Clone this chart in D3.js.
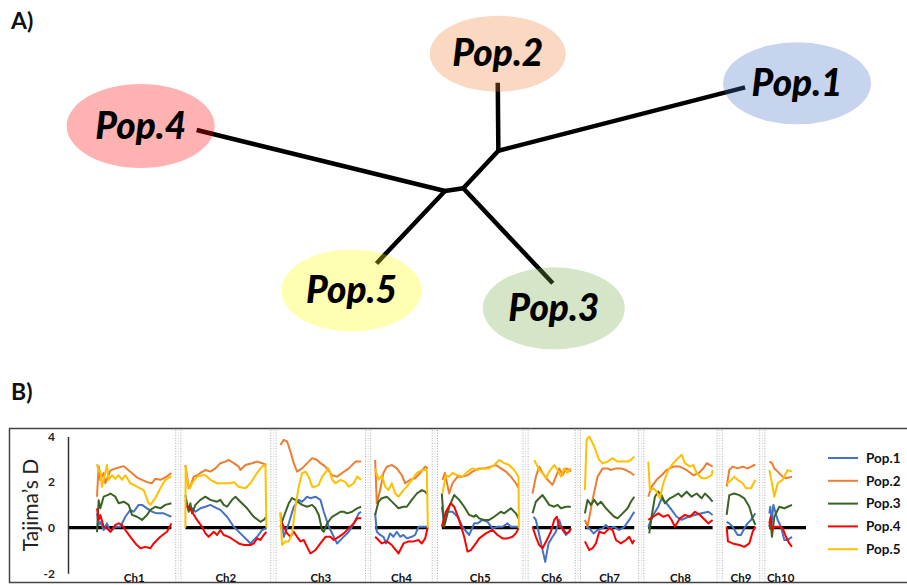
<!DOCTYPE html>
<html><head><meta charset="utf-8">
<script src="https://cdn.jsdelivr.net/npm/d3@7"></script>
<style>body{margin:0;background:#fff}svg{display:block}</style>
</head><body>
<svg id="c" width="907" height="585"></svg>
<script>
// ---------- Panel B data ----------
const chromosomes = ["Ch1","Ch2","Ch3","Ch4","Ch5","Ch6","Ch7","Ch8","Ch9","Ch10"];
const chromLengths = [223,243,242,158,230,115,148,193,86,68]; // windows
const popNames = ["Pop.1","Pop.2","Pop.3","Pop.4","Pop.5"];
const popColors = ["#4472C4","#ED7D31","#3A6324","#FF0000","#FFC000"];
const yTicks = [-2,0,2,4];

// [window position within chromosome, Tajima's D]
const pop1 = [
 [[0,0.63],[5,0.12],[10,0.26],[20,-0.1],[30,0.19],[40,-0.18],[55,0.04],[70,0.04],[85,0.48],[100,0.78],[110,0.7],[125,1.0],[135,1.0],[150,0.85],[165,0.7],[180,0.63],[200,0.63],[210,0.56],[223,0.48]],
 [[0,1.22],[10,0.78],[20,0.85],[30,0.7],[45,0.85],[60,0.92],[75,1.0],[95,0.85],[105,0.78],[125,0.48],[145,0.04],[165,-0.25],[185,-0.54],[195,-0.69],[205,-0.54],[215,-0.4],[230,-0.1],[243,-0.03]],
 [[0,0.63],[10,-0.4],[25,0.19],[40,0.92],[55,1.22],[65,1.14],[80,1.36],[90,1.29],[105,1.36],[120,1.22],[130,0.7],[145,0.04],[160,-0.4],[170,-0.69],[185,-0.47],[205,-0.18],[220,0.19],[235,0.63],[242,0.7]],
 [[0,0.63],[5,-0.18],[15,-0.32],[25,-0.4],[33,-0.69],[45,-0.25],[55,-0.4],[65,-0.18],[75,-0.4],[85,-0.32],[95,-0.47],[110,-0.4],[120,-0.32],[130,0.04],[158,0.04]],
 [[0,0.92],[7,0.19],[17,0.7],[32,0.7],[47,0.48],[62,0.04],[82,-0.32],[97,0.19],[107,0.19],[122,0.34],[137,0.26],[152,-0.03],[167,0.04],[182,0.04],[197,0.19],[207,0.04],[230,0.04]],
 [[3,0.48],[10,0.34],[17,-0.1],[28,-0.84],[38,-1.5],[48,-0.69],[60,-0.4],[70,-0.18],[80,0.34],[90,-0.1],[100,-0.32],[110,-0.18],[115,-0.03]],
 [[3,0.04],[13,-0.03],[26,-0.25],[38,-0.1],[53,-0.03],[63,0.12],[73,-0.03],[88,0.04],[103,-0.1],[118,0.04],[133,0.34],[148,0.7]],
 [[0,0.04],[15,0.56],[30,0.92],[40,1.29],[55,1.07],[70,0.78],[85,0.48],[100,0.34],[120,0.48],[140,0.56],[160,0.63],[180,0.7],[193,0.56]],
 [[0,0.26],[8,0.19],[18,0.04],[33,-0.32],[43,-0.32],[53,-0.03],[63,0.19],[73,0.34],[86,0.63]],
 [[0,0.63],[3,0.92],[7,0.19],[12,1.0],[25,0.34],[35,0.04],[45,-0.54],[55,-0.54],[68,-0.4]]
];
const pop2 = [
 [[0,1.36],[5,2.7],[10,2.1],[20,2.4],[25,1.95],[40,2.5],[55,2.6],[80,2.7],[100,2.45],[120,2.2],[150,2.0],[165,1.95],[175,2.15],[190,2.1],[210,2.25],[223,2.4]],
 [[0,2.75],[10,1.73],[15,1.8],[25,2.24],[35,2.3],[45,2.4],[60,2.53],[75,2.46],[90,2.6],[105,2.83],[120,2.9],[130,2.97],[145,2.83],[160,2.68],[165,2.53],[180,2.75],[200,2.83],[215,2.9],[230,2.83],[243,2.75]],
 [[0,3.63],[10,3.85],[20,3.78],[30,3.34],[40,2.83],[50,2.46],[65,2.6],[85,2.9],[95,3.05],[110,2.97],[120,2.83],[135,2.68],[155,2.3],[170,2.24],[185,2.4],[205,2.6],[225,2.9],[242,2.9]],
 [[0,2.97],[5,1.07],[15,1.65],[25,2.4],[35,2.68],[50,2.75],[65,2.6],[80,2.3],[90,1.95],[105,2.1],[120,2.17],[135,2.4],[150,2.68],[158,2.6]],
 [[2,2.1],[9,2.4],[22,1.5],[32,1.95],[47,2.24],[62,2.24],[77,2.3],[92,2.46],[112,2.6],[127,2.6],[147,2.68],[162,2.75],[177,2.6],[192,2.46],[207,2.24],[222,1.95],[230,1.73]],
 [[0,1.5],[10,2.24],[20,2.68],[30,2.4],[45,2.1],[60,1.88],[70,2.24],[80,2.6],[90,2.3],[100,2.6],[110,2.53],[115,2.46]],
 [[0,0.34],[8,0.04],[23,1.22],[38,2.24],[53,2.6],[68,2.6],[78,2.53],[93,2.6],[108,2.6],[123,2.53],[138,2.4],[148,2.3]],
 [[0,1.36],[10,1.8],[25,2.1],[40,2.3],[55,2.53],[75,2.68],[95,2.68],[115,2.53],[135,2.3],[150,2.38],[165,2.6],[175,2.83],[185,2.75],[193,2.68]],
 [[0,1.8],[8,2.53],[18,2.68],[33,2.6],[48,2.68],[63,2.6],[83,2.75],[86,2.75]],
 [[0,2.9],[8,2.83],[15,2.6],[25,2.46],[40,2.24],[50,2.17],[68,2.24]]
];
const pop3 = [
 [[0,-0.2],[5,1.2],[10,0.85],[20,1.36],[35,1.45],[40,1.5],[55,1.36],[65,1.07],[80,1.14],[95,1.0],[105,0.56],[120,0.48],[135,0.34],[150,0.56],[160,0.78],[175,0.92],[190,0.85],[205,1.0],[223,1.07]],
 [[0,1.43],[10,0.7],[15,1.07],[20,0.63],[30,1.0],[45,1.22],[60,1.36],[75,1.22],[95,1.14],[105,1.22],[115,1.0],[125,0.92],[140,1.22],[150,1.36],[165,1.14],[185,0.85],[205,0.48],[225,0.26],[235,0.34],[243,0.48]],
 [[0,0.04],[10,0.48],[25,1.07],[35,1.3],[45,1.22],[65,1.0],[80,0.92],[95,1.0],[105,0.85],[115,0.56],[125,-0.1],[130,-0.18],[140,0.19],[155,0.48],[165,0.56],[180,0.7],[190,0.7],[200,0.63],[215,0.7],[230,0.85],[242,0.92]],
 [[0,0.56],[10,1.14],[20,1.29],[35,1.36],[45,1.22],[60,1.0],[70,0.85],[85,0.92],[95,0.92],[110,1.22],[125,1.5],[140,1.65],[150,1.58],[158,1.43]],
 [[0,1.5],[7,0.04],[22,0.92],[37,1.43],[52,1.22],[67,0.92],[82,0.56],[97,0.48],[102,0.56],[112,0.41],[127,0.34],[142,0.34],[157,0.48],[177,0.7],[187,0.63],[207,0.85],[222,0.63],[230,0.41]],
 [[0,0.63],[10,1.14],[20,1.29],[30,1.43],[40,1.22],[50,1.0],[65,0.92],[75,1.0],[85,0.85],[100,0.92],[115,0.92]],
 [[0,0.63],[8,1.22],[18,1.0],[28,1.22],[38,1.0],[48,1.14],[63,0.85],[73,0.7],[88,0.48],[98,0.41],[113,0.63],[128,0.85],[138,1.14],[148,1.36]],
 [[3,-0.25],[10,0.48],[20,1.36],[30,1.58],[40,1.43],[50,1.07],[65,1.29],[75,1.36],[90,1.5],[100,1.36],[115,1.58],[130,1.36],[145,1.5],[160,1.29],[170,1.5],[180,1.36],[193,1.14]],
 [[0,0.56],[8,1.43],[23,1.5],[38,1.43],[53,1.29],[68,0.92],[78,0.41],[86,0.12]],
 [[0,0.04],[3,0.34],[8,-0.4],[15,0.48],[30,0.92],[45,0.85],[55,0.92],[68,1.0]]
];
const pop4 = [
 [[0,0.85],[5,0.34],[10,0.56],[20,0.04],[30,-0.03],[40,-0.18],[55,0.12],[65,0.19],[75,0.12],[85,-0.1],[100,-0.4],[115,-0.69],[130,-0.9],[145,-0.84],[160,-0.9],[170,-0.69],[190,-0.4],[210,-0.18],[223,0.19]],
 [[0,0.92],[10,0.92],[20,0.7],[35,0.34],[50,0.04],[60,-0.25],[70,-0.4],[85,-0.18],[95,-0.32],[105,-0.1],[115,-0.32],[130,-0.4],[145,-0.54],[160,-0.69],[175,-0.76],[195,-0.76],[205,-0.69],[215,-0.47],[225,-0.54],[235,-0.32],[243,-0.18]],
 [[0,0.34],[10,0.04],[20,-0.25],[30,-0.4],[40,-0.18],[50,-0.4],[60,-0.6],[70,-0.54],[80,-0.84],[90,-1.13],[105,-0.98],[120,-0.69],[135,-0.4],[150,-0.4],[160,-0.54],[175,-0.4],[190,-0.25],[205,-0.03],[220,0.19],[230,0.41],[242,0.41]],
 [[0,-0.4],[10,-0.54],[20,-0.69],[35,-0.6],[50,-0.76],[70,-1.13],[85,-0.69],[100,-0.6],[115,-0.6],[130,-0.54],[140,-0.69],[150,-0.47],[158,0.04]],
 [[0,0.04],[12,0.7],[27,1.07],[37,0.92],[52,0.34],[67,-0.4],[77,-1.05],[87,-0.98],[102,-0.69],[112,-0.47],[132,-0.25],[152,-0.1],[167,-0.32],[182,-0.47],[197,-0.47],[212,-0.4],[222,-0.25],[230,-0.03]],
 [[0,0.04],[10,-0.4],[20,-0.76],[30,-0.9],[43,-0.54],[55,-0.18],[65,0.34],[73,0.48],[80,0.04],[90,-0.03],[100,-0.25],[110,-0.18],[115,-0.03]],
 [[0,-0.6],[13,-0.98],[23,-0.9],[33,-0.69],[43,-0.18],[58,-0.25],[73,-0.03],[83,-0.1],[93,-0.54],[108,-0.69],[123,-0.54],[133,-0.4],[143,-0.69],[148,-0.54]],
 [[0,0.34],[15,0.48],[30,0.63],[45,0.48],[60,0.56],[70,0.34],[80,0.04],[95,0.41],[110,0.56],[125,0.48],[140,0.7],[155,0.56],[170,0.34],[180,0.19],[193,0.34]],
 [[0,0.04],[4,-0.6],[18,-0.69],[38,-0.76],[53,-0.84],[68,-0.69],[78,-0.18],[86,0.04]],
 [[0,0.19],[4,0.48],[8,-0.1],[15,0.04],[30,0.04],[40,-0.03],[50,-0.4],[60,-0.69],[68,-0.84]]
];
const pop5 = [
 [[0,2.8],[5,2.45],[10,2.5],[15,1.8],[30,2.75],[35,2.1],[45,2.3],[55,2.15],[65,2.3],[75,2.1],[85,2.3],[100,1.95],[120,1.8],[140,1.65],[155,1.07],[160,1.0],[175,1.3],[190,1.73],[205,2.1],[223,2.25]],
 [[0,0],[1,2.7],[5,2.1],[13,1.73],[20,1.95],[35,2.24],[50,2.3],[60,2.3],[75,2.1],[95,1.95],[115,1.95],[135,1.95],[145,2.0],[160,1.8],[180,1.73],[195,1.95],[215,2.4],[230,2.68],[240,2.75],[243,0]],
 [[0,0.7],[5,-0.76],[15,-0.6],[25,-0.6],[35,-0.25],[45,0.92],[55,1.8],[65,2.4],[75,2.46],[85,2.24],[95,1.8],[105,1.8],[115,1.88],[125,2.24],[145,2.6],[155,2.1],[165,1.95],[180,2.1],[195,2.0],[205,1.8],[220,1.95],[230,2.24],[242,2.1]],
 [[0,2.6],[10,2.1],[20,2.3],[30,1.8],[40,1.65],[50,1.95],[60,1.5],[70,1.36],[85,1.65],[95,1.8],[110,2.1],[125,2.4],[140,2.53],[155,2.53],[158,0]],
 [[2,1.5],[12,2.3],[22,2.24],[32,2.4],[47,2.3],[62,2.24],[77,2.46],[92,2.6],[107,2.53],[122,2.6],[142,2.6],[157,2.75],[172,2.97],[187,2.83],[202,2.75],[217,2.53],[230,2.24],[231,0]],
 [[5,2.97],[10,2.83],[20,2.53],[30,2.4],[40,2.17],[50,2.46],[65,2.75],[75,2.53],[85,2.24],[95,2.6],[105,2.4],[115,2.6]],
 [[0,1.65],[5,3.85],[13,4.0],[28,3.56],[43,2.97],[53,2.83],[68,2.9],[83,3.05],[98,2.9],[113,2.9],[128,2.9],[138,2.97],[148,3.12]],
 [[0,2.9],[5,1.65],[15,1.73],[25,1.58],[35,1.29],[45,1.95],[60,2.53],[75,2.83],[90,3.05],[100,3.2],[110,2.83],[125,2.68],[135,2.75],[145,2.4],[160,2.17],[175,2.17],[190,2.3],[193,2.53]],
 [[0,1.95],[8,2.0],[23,2.24],[33,2.1],[48,1.95],[58,1.73],[73,1.73],[86,2.1]],
 [[0,2.53],[8,1.95],[15,1.36],[25,1.95],[40,2.1],[55,2.53],[68,2.46]]
];
const popSeries = [pop1, pop2, pop3, pop4, pop5];

// ---------- Panel A data (unrooted tree) ----------
// branch length (tree units) and drawing angle (degrees)
const treeEdges = [
 {from:"B", to:"A",     len:0.0514, angle:-47},
 {from:"A", to:"Pop.1", len:0.2547, angle:-14.4},
 {from:"A", to:"Pop.2", len:0.068,  angle:-90.5},
 {from:"B", to:"Pop.3", len:0.1305, angle:46.7},
 {from:"B", to:"C",     len:0.0185, angle:171.6},
 {from:"C", to:"Pop.4", len:0.2557, angle:193.8},
 {from:"C", to:"Pop.5", len:0.0997, angle:133.4}
];
const tipLabelOffset = {"Pop.1":[52,-4],"Pop.2":[0,-29],"Pop.3":[1,25],"Pop.4":[-56,-4],"Pop.5":[-25,27]};
const tipEllipse = {"Pop.1":[74,41],"Pop.2":[68,38],"Pop.3":[71,41],"Pop.4":[74,42],"Pop.5":[70,41]};

const svg = d3.select("#c");
const font = "Lato, 'Open Sans', sans-serif";

// ---------- Panel A ----------
svg.append("text").attr("x",11).attr("y",29).text("A)")
  .attr("font-family",font).attr("font-weight",700).attr("font-size",23).attr("fill","#111");

const treeScale = d3.scaleLinear().domain([0,1]).range([0,1000]);
const nodes = {B:[463.3,188.3]};
treeEdges.forEach(e=>{
  const p = nodes[e.from], a = e.angle*Math.PI/180, l = treeScale(e.len);
  nodes[e.to] = [p[0]+l*Math.cos(a), p[1]+l*Math.sin(a)];
});
const gTree = svg.append("g");
gTree.selectAll("line").data(treeEdges).join("line")
  .attr("x1",d=>nodes[d.from][0]).attr("y1",d=>nodes[d.from][1])
  .attr("x2",d=>nodes[d.to][0]).attr("y2",d=>nodes[d.to][1])
  .attr("stroke","#000").attr("stroke-width",4.5).attr("stroke-linecap","butt");
gTree.selectAll("circle").data(["A","B","C"]).join("circle")
  .attr("cx",d=>nodes[d][0]).attr("cy",d=>nodes[d][1]).attr("r",2.25).attr("fill","#000");

const tips = popNames.map((n,i)=>({name:n, color:popColors[i]}));
const tipColor = {"Pop.1":"#4472C4","Pop.2":"#ED7D31","Pop.3":"#70AD47","Pop.4":"#FF0000","Pop.5":"#FFFF00"};
const gTips = svg.append("g").selectAll("g").data(tips).join("g")
  .attr("transform",d=>{const p=nodes[d.name],o=tipLabelOffset[d.name];return `translate(${p[0]+o[0]},${p[1]+o[1]})`;});
gTips.append("ellipse").attr("rx",d=>tipEllipse[d.name][0]).attr("ry",d=>tipEllipse[d.name][1])
  .attr("fill",d=>tipColor[d.name]).attr("fill-opacity",0.3);
gTips.append("text").attr("text-anchor","middle").attr("y",12.5).text(d=>d.name)
  .attr("font-family",font).attr("font-weight",900).attr("font-style","italic").attr("font-size",37).attr("fill","#000");

// ---------- Panel B ----------
svg.append("text").attr("x",11).attr("y",400).text("B)")
  .attr("font-family",font).attr("font-weight",700).attr("font-size",23).attr("fill","#111");

svg.append("rect").attr("x",9.5).attr("y",428.5).attr("width",905).attr("height",154)
  .attr("fill","none").attr("stroke","#444").attr("stroke-width",1.5);

const gapUnits = 42;
const offsets = [];
let acc = 0;
chromLengths.forEach((l,i)=>{offsets.push(acc); acc += l + (i<chromLengths.length-1?gapUnits:0);});
const x = d3.scaleLinear().domain([0,acc]).range([97,792]);
const y = d3.scaleLinear().domain([-2,4]).range([573.3,436.5]);

// separators
const seps = offsets.slice(1).map(o=>o-gapUnits/2);
const gSep = svg.append("g");
seps.forEach(s=>{
  const cx = x(s);
  [-2.6,0,2.6].forEach((dx,k)=>{
    gSep.append("line").attr("x1",cx+dx).attr("x2",cx+dx).attr("y1",430).attr("y2",582)
      .attr("stroke",k===1?"#d4d4d4":"#a8a8a8").attr("stroke-width",1).attr("stroke-dasharray","1,1.6");
  });
});

// zero line
const axisX = 68;
const zeroSegs = chromLengths.map((l,i)=>{
  const a = i===0 ? x.invert(axisX) : offsets[i];
  const b = offsets[i] + l + (i===chromLengths.length-1 ? gapUnits : 0);
  return [a,b];
});
svg.append("g").selectAll("line").data(zeroSegs).join("line")
  .attr("x1",d=>x(d[0])).attr("x2",d=>x(d[1])).attr("y1",y(0)).attr("y2",y(0))
  .attr("stroke","#000").attr("stroke-width",3.2);

// y axis
const yAxis = d3.axisLeft(y).tickValues(yTicks).tickSize(0).tickPadding(13).tickSizeOuter(0).tickFormat(d=>String(d));
const gy = svg.append("g").attr("transform",`translate(${axisX},0)`).call(yAxis);
gy.select(".domain").attr("stroke","#333").attr("stroke-width",1.5);
gy.selectAll("text").attr("font-family",font).attr("font-weight",700).attr("font-size",12).attr("fill","#222");

svg.append("text").attr("transform",`translate(29,505) rotate(-90)`).attr("text-anchor","middle")
  .attr("dominant-baseline","central").text("Tajima\u2019s D")
  .attr("font-family",font).attr("font-size",21).attr("fill","#222");

// series lines
const line = d3.line().x(d=>x(d[0])).y(d=>y(d[1]));
const gLines = svg.append("g").attr("fill","none").attr("stroke-width",2).attr("stroke-linejoin","round");
popSeries.forEach((series,p)=>{
  series.forEach((pts,c)=>{
    gLines.append("path").attr("d",line(pts.map(d=>[offsets[c]+d[0],d[1]]))).attr("stroke",popColors[p]);
  });
});

// chromosome labels
svg.append("g").selectAll("text").data(chromosomes).join("text")
  .attr("x",(d,i)=>x(offsets[i]+chromLengths[i]/2)).attr("y",582).attr("text-anchor","middle").text(d=>d)
  .attr("font-family",font).attr("font-weight",700).attr("font-size",11.5).attr("fill","#111");

// legend
const gLeg = svg.append("g").selectAll("g").data(popNames).join("g")
  .attr("transform",(d,i)=>`translate(828,${458+i*22.8})`);
gLeg.append("line").attr("x1",0).attr("x2",30).attr("stroke",(d,i)=>popColors[i]).attr("stroke-width",2);
gLeg.append("text").attr("x",38).attr("dy","0.36em").text(d=>d)
  .attr("font-family",font).attr("font-weight",700).attr("font-size",13.5).attr("fill","#111");
</script>
</body></html>
